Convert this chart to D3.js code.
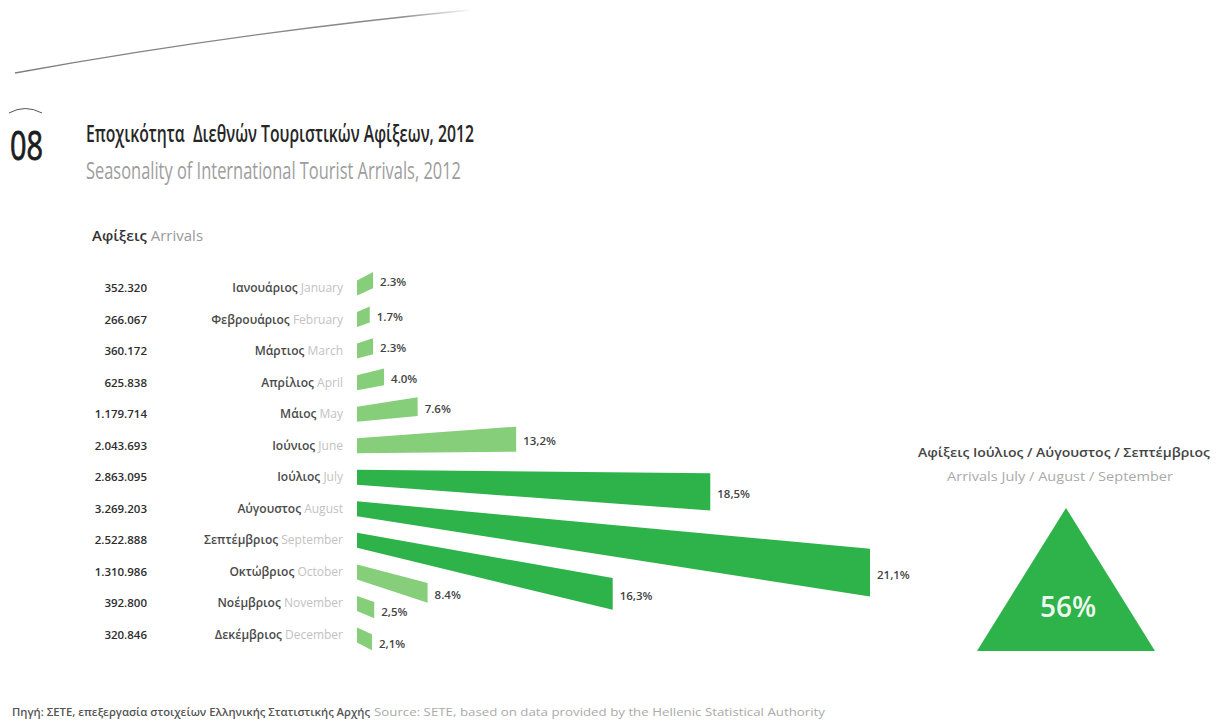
<!DOCTYPE html>
<html>
<head>
<meta charset="utf-8">
<script src="https://cdn.jsdelivr.net/npm/d3@7"></script>
<style>
  html, body { margin: 0; padding: 0; background: #fff; }
  svg { display: block; font-family: "Open Sans", "Noto Sans", "DejaVu Sans", sans-serif; }
  text { white-space: pre; }
</style>
</head>
<body>
<svg id="chart" width="1225" height="724"></svg>
<script>
// Monthly international tourist arrivals, Greece 2012
const monthsGr = ["Ιανουάριος", "Φεβρουάριος", "Μάρτιος", "Απρίλιος", "Μάιος", "Ιούνιος",
                  "Ιούλιος", "Αύγουστος", "Σεπτέμβριος", "Οκτώβριος", "Νοέμβριος", "Δεκέμβριος"];
const monthsEn = ["January", "February", "March", "April", "May", "June",
                  "July", "August", "September", "October", "November", "December"];
const arrivals = [352320, 266067, 360172, 625838, 1179714, 2043693,
                  2863095, 3269203, 2522888, 1310986, 392800, 320846];
// share of annual arrivals, %
const shares = [2.3, 1.7, 2.3, 4.0, 7.6, 13.2, 18.5, 21.1, 16.3, 8.4, 2.5, 2.1];
const shareLabels = ["2.3%", "1.7%", "2.3%", "4.0%", "7.6%", "13,2%",
                     "18,5%", "21,1%", "16,3%", "8.4%", "2,5%", "2,1%"];
// summer peak months
const peakMonths = ["July", "August", "September"];

const svg = d3.select("#chart");

// number format with Greek separators
const grLocale = d3.formatLocale({ decimal: ",", thousands: ".", grouping: [3], currency: ["", "€"] });
const fmtInt = grLocale.format(",d");

// ---------- header ----------
const fade = svg.append("defs").append("linearGradient")
  .attr("id", "fadeLine").attr("x1", "0%").attr("x2", "100%");
fade.append("stop").attr("offset", "0%").attr("stop-color", "#6f6f6f").attr("stop-opacity", 0.9);
fade.append("stop").attr("offset", "85%").attr("stop-color", "#6f6f6f").attr("stop-opacity", 0.8);
fade.append("stop").attr("offset", "100%").attr("stop-color", "#6f6f6f").attr("stop-opacity", 0.05);

svg.append("path")
  .attr("d", "M15,73 Q235,33 470,10")
  .attr("fill", "none").attr("stroke", "url(#fadeLine)").attr("stroke-width", 1.4);

svg.append("path")
  .attr("d", "M9,113 Q25,104 42,113")
  .attr("fill", "none").attr("stroke", "#555").attr("stroke-width", 1);

svg.append("text")
  .attr("x", 10).attr("y", 160)
  .attr("font-size", 40).attr("fill", "#1c1c1c")
  .attr("stroke", "#1c1c1c").attr("stroke-width", 0.9)
  .attr("textLength", 33).attr("lengthAdjust", "spacingAndGlyphs")
  .text("08");

svg.append("text")
  .attr("x", 86).attr("y", 142)
  .attr("font-size", 23).attr("font-weight", 600).attr("fill", "#262626")
  .attr("textLength", 388).attr("lengthAdjust", "spacingAndGlyphs")
  .text("Εποχικότητα  Διεθνών Τουριστικών Αφίξεων, 2012");

svg.append("text")
  .attr("x", 86).attr("y", 179)
  .attr("font-size", 23).attr("fill", "#9d9d9d")
  .attr("textLength", 375).attr("lengthAdjust", "spacingAndGlyphs")
  .text("Seasonality of International Tourist Arrivals, 2012");

const axisTitle = svg.append("text")
  .attr("x", 92).attr("y", 241).attr("font-size", 15);
axisTitle.append("tspan").attr("fill", "#333").attr("font-weight", 600).text("Αφίξεις ");
axisTitle.append("tspan").attr("fill", "#9a9a9a").text("Arrivals");

// ---------- fan of bars ----------
const x0 = 357;                       // common left edge of the bars
const y = d3.scalePoint().domain(monthsEn).range([288, 635]);
// each row is tilted a little more than the one above it
const tilt = d3.scaleLinear().domain([288, 635]).range([-26, 26]);
// bar length grows exponentially with the share
const K = 0.135;
const grow = p => Math.exp(K * p) - 0.85;
const len = d3.scaleLinear().domain([0, grow(d3.max(shares))]).range([0, 513]);

const halfH = 7.5;                    // half thickness at the left edge
const spread = 1.8 * Math.PI / 180;   // wedge half opening

const lightGreen = "#86ce7a", darkGreen = "#2db34a";

const rows = monthsEn.map((m, i) => {
  const yc = y(m);
  const th = tilt(yc) * Math.PI / 180;
  const L = len(grow(shares[i]));
  const top = yc - halfH + L * Math.tan(th - spread);
  const bot = yc + halfH + L * Math.tan(th + spread);
  return {
    en: m, gr: monthsGr[i], value: arrivals[i], label: shareLabels[i],
    yc, L, top, bot, peak: peakMonths.includes(m)
  };
});

const line = d3.line();
svg.append("g").selectAll("path")
  .data(rows).join("path")
  .attr("d", d => line([
    [x0, d.yc - halfH], [x0 + d.L, d.top], [x0 + d.L, d.bot], [x0, d.yc + halfH]
  ]) + "Z")
  .attr("fill", d => d.peak ? darkGreen : lightGreen);

// share labels at the end of each bar
svg.append("g").selectAll("text")
  .data(rows).join("text")
  .attr("x", d => x0 + d.L + 7)
  .attr("y", d => (d.top + d.bot) / 2 + 6)
  .attr("font-size", 11.5).attr("font-weight", 600).attr("fill", "#444")
  .text(d => d.label);

// month names
const monthLabels = svg.append("g").selectAll("text")
  .data(rows).join("text")
  .attr("x", 343).attr("y", d => d.yc + 4)
  .attr("text-anchor", "end").attr("font-size", 12);
monthLabels.append("tspan").attr("fill", "#4a4a4a").attr("font-weight", 600).text(d => d.gr + " ");
monthLabels.append("tspan").attr("fill", "#c2c2c2").text(d => d.en);

// arrivals per month
svg.append("g").selectAll("text")
  .data(rows).join("text")
  .attr("x", 147).attr("y", d => d.yc + 4)
  .attr("text-anchor", "end").attr("font-size", 11.5).attr("font-weight", 600)
  .attr("fill", "#2e2e2e")
  .text(d => fmtInt(d.value));

// ---------- summer share ----------
const peakTotal = d3.sum(rows.filter(d => d.peak), d => d.value);
const peakShare = peakTotal / d3.sum(arrivals);

const cx = 1066;
const peakTitle = svg.append("g").attr("text-anchor", "middle");
peakTitle.append("text")
  .attr("x", cx - 2).attr("y", 457).attr("font-size", 13).attr("font-weight", 600).attr("fill", "#444")
  .attr("textLength", 292).attr("lengthAdjust", "spacingAndGlyphs")
  .text("Αφίξεις Ιούλιος / Αύγουστος / Σεπτέμβριος");
peakTitle.append("text")
  .attr("x", cx - 6).attr("y", 481).attr("font-size", 13).attr("fill", "#aaa")
  .attr("textLength", 226).attr("lengthAdjust", "spacingAndGlyphs")
  .text("Arrivals July / August / September");

svg.append("path")
  .attr("d", line([[cx, 508], [cx + 89, 651], [cx - 89, 651]]) + "Z")
  .attr("fill", darkGreen);

svg.append("text")
  .attr("x", cx + 2).attr("y", 617)
  .attr("text-anchor", "middle").attr("font-size", 28).attr("font-weight", 600)
  .attr("fill", "#eef8ee")
  .text(d3.format(".0%")(peakShare));

// ---------- source ----------
svg.append("text")
  .attr("x", 12).attr("y", 716).attr("font-size", 10.5).attr("font-weight", 600).attr("fill", "#555")
  .attr("textLength", 358).attr("lengthAdjust", "spacingAndGlyphs")
  .text("Πηγή: ΣΕΤΕ, επεξεργασία στοιχείων Ελληνικής Στατιστικής Αρχής");
svg.append("text")
  .attr("x", 374).attr("y", 716).attr("font-size", 10.5).attr("fill", "#aaa")
  .attr("textLength", 451).attr("lengthAdjust", "spacingAndGlyphs")
  .text("Source: SETE, based on data provided by the Hellenic Statistical Authority");
</script>
</body>
</html>
